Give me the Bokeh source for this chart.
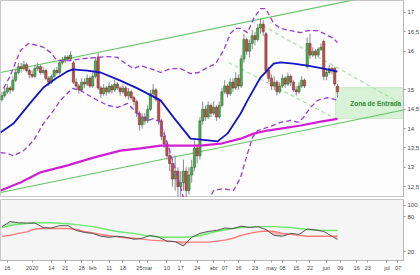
from bokeh.plotting import figure
from bokeh.layouts import column
from bokeh.models import Range1d, FixedTicker, Label, BoxAnnotation
from bokeh.embed import file_html
from bokeh.resources import INLINE
import numpy as np

FONT = "Liberation Sans"

# ---------------- data (x = trading-day index) ----------------
opens = [14.75, 14.85, 14.95, 15.05, 15.00, 15.25, 15.45, 15.60, 15.55, 15.65,
         15.50, 15.40, 15.35, 15.55, 15.60, 15.45, 15.50, 15.30, 15.20, 15.35,
         15.50, 15.45, 15.70, 15.75, 15.85, 15.80, 15.70, 15.20, 15.10, 15.00,
         15.20, 15.15, 15.30, 15.10, 15.35, 15.85, 15.05, 14.90, 15.05, 14.95,
         15.10, 15.00, 15.15, 15.05, 14.95, 15.05, 14.85, 14.95, 14.80, 14.70,
         14.40, 14.10, 14.30, 14.20, 14.50, 14.90, 15.00, 14.75, 14.20, 13.80,
         13.60, 13.30, 13.10, 12.70, 12.90, 12.50, 12.60, 12.90, 12.40, 12.80,
         13.00, 13.50, 13.30, 14.20, 14.50, 14.30, 14.60, 14.40, 14.55, 14.30,
         14.60, 14.95, 15.10, 14.90, 15.20, 15.05, 15.30, 15.10, 15.80, 16.30,
         16.00, 16.20, 16.40, 16.30, 16.60, 16.70, 16.45, 15.50, 15.30, 15.10,
         15.20, 14.95, 15.10, 15.30, 15.15, 15.35, 15.20, 15.00, 14.95, 15.10,
         15.25, 15.60, 16.20, 15.90, 16.00, 15.90, 16.05, 16.25, 15.35, 15.45,
         15.55, 15.55, 15.10]
highs = [14.95, 15.05, 15.15, 15.10, 15.35, 15.55, 15.70, 15.70, 15.75, 15.70,
         15.55, 15.50, 15.65, 15.70, 15.65, 15.60, 15.55, 15.35, 15.40, 15.55,
         15.60, 15.75, 15.85, 15.90, 15.90, 16.00, 15.75, 15.30, 15.15, 15.30,
         15.30, 15.40, 15.35, 15.45, 15.85, 15.95, 15.10, 15.15, 15.10, 15.20,
         15.15, 15.25, 15.20, 15.10, 15.15, 15.10, 15.05, 15.00, 14.85, 14.75,
         14.45, 14.40, 14.40, 14.60, 15.00, 15.15, 15.05, 14.80, 14.25, 13.95,
         13.70, 13.50, 13.20, 13.30, 13.00, 12.90, 13.20, 13.00, 13.00, 13.20,
         13.70, 13.60, 14.30, 14.70, 14.60, 14.70, 14.65, 14.70, 14.60, 14.70,
         15.05, 15.25, 15.15, 15.30, 15.30, 15.45, 15.40, 15.90, 16.45, 16.35,
         16.30, 16.55, 16.50, 16.70, 16.85, 16.80, 16.50, 15.60, 15.40, 15.35,
         15.25, 15.20, 15.40, 15.35, 15.45, 15.40, 15.25, 15.10, 15.20, 15.35,
         15.30, 16.35, 16.45, 16.10, 16.05, 16.10, 16.20, 16.30, 15.55, 15.65,
         15.60, 15.60, 15.15]
lows = [14.70, 14.80, 14.90, 14.90, 14.95, 15.20, 15.40, 15.45, 15.50, 15.45,
        15.30, 15.30, 15.30, 15.50, 15.40, 15.40, 15.25, 15.10, 15.15, 15.30,
        15.40, 15.40, 15.65, 15.70, 15.75, 15.75, 15.15, 15.00, 14.90, 14.95,
        15.05, 15.10, 15.05, 15.05, 15.30, 15.00, 14.80, 14.85, 14.85, 14.90,
        14.90, 14.95, 15.00, 14.85, 14.90, 14.80, 14.75, 14.75, 14.60, 14.30,
        13.95, 14.00, 14.10, 14.15, 14.45, 14.80, 14.70, 14.10, 13.70, 13.50,
        13.20, 12.90, 12.50, 12.40, 12.20, 12.10, 12.40, 12.20, 12.30, 12.60,
        12.90, 13.10, 13.20, 14.10, 14.20, 14.25, 14.30, 14.35, 14.20, 14.25,
        14.55, 14.90, 14.80, 14.85, 14.95, 15.00, 15.00, 15.05, 15.70, 15.90,
        15.85, 16.05, 16.15, 16.25, 16.45, 16.40, 15.40, 15.20, 15.00, 15.00,
        14.85, 14.90, 15.05, 15.05, 15.10, 15.10, 14.95, 14.85, 14.90, 15.05,
        15.05, 15.55, 15.80, 15.85, 15.80, 15.85, 16.00, 15.25, 15.25, 15.40,
        15.40, 15.10, 14.80]
closes = [14.85, 14.95, 15.05, 15.00, 15.25, 15.45, 15.60, 15.55, 15.65, 15.50,
          15.40, 15.35, 15.55, 15.60, 15.45, 15.50, 15.30, 15.20, 15.35, 15.50,
          15.45, 15.70, 15.75, 15.85, 15.80, 15.90, 15.20, 15.10, 15.00, 15.20,
          15.15, 15.30, 15.10, 15.35, 15.75, 15.05, 14.90, 15.05, 14.95, 15.10,
          15.00, 15.15, 15.05, 14.95, 15.05, 14.85, 14.95, 14.80, 14.70, 14.40,
          14.10, 14.30, 14.20, 14.50, 14.90, 15.00, 14.75, 14.20, 13.80, 13.60,
          13.30, 13.10, 12.70, 12.90, 12.50, 12.60, 12.90, 12.40, 12.80, 13.00,
          13.50, 13.30, 14.20, 14.50, 14.30, 14.60, 14.40, 14.55, 14.30, 14.60,
          14.95, 15.10, 14.90, 15.20, 15.05, 15.30, 15.10, 15.80, 16.30, 16.00,
          16.20, 16.40, 16.30, 16.60, 16.70, 16.50, 15.50, 15.30, 15.10, 15.20,
          14.95, 15.10, 15.30, 15.15, 15.35, 15.20, 15.00, 14.95, 15.10, 15.25,
          15.10, 16.20, 15.90, 16.00, 15.90, 16.05, 16.10, 15.35, 15.45, 15.55,
          15.50, 15.15, 14.95]

sma_x = [-2.5, 2.2, 9.1, 13.1, 17.5, 21.9, 23.7, 29.1, 33.9, 41.1, 47.3, 55.7, 60.4,
         66.6, 69.5, 76.4, 80.0, 84.8, 87.3, 92.0, 96.8, 99.3, 104.0, 109.1, 115.0, 120.0]
sma_y = [13.90, 14.13, 14.73, 15.06, 15.29, 15.48, 15.53, 15.50, 15.45, 15.24, 15.04, 14.73, 14.29,
         13.74, 13.72, 13.67, 13.87, 14.39, 14.73, 15.32, 15.68, 15.71, 15.68, 15.63, 15.55, 15.475]

bb_up_x = [-1.4, 1.1, 2.95, 4.8, 7.7, 11.0, 13.1, 15.7, 17.5, 18.6, 23.0, 27.7, 32.8, 36.4,
           40.0, 43.0, 45.9, 48.4, 52.0, 55.7, 59.3, 63.0, 66.6, 69.5, 72.8, 75.7, 78.6, 81.1,
           83.0, 84.8, 87.3, 89.5, 92.0, 93.9, 96.8, 99.3, 103.0, 106.6, 109.1, 112.8, 115.0,
           118.6, 120.0]
bb_up_y = [15.04, 15.37, 15.71, 16.02, 16.20, 16.15, 16.10, 15.97, 15.81, 15.76, 15.76, 15.81,
           15.84, 15.86, 15.84, 15.68, 15.55, 15.63, 15.55, 15.45, 15.55, 15.55, 15.42, 15.45,
           15.58, 15.68, 16.02, 16.46, 16.59, 16.59, 16.48, 16.84, 17.10, 17.10, 16.72, 16.59,
           16.53, 16.48, 16.53, 16.53, 16.46, 16.33, 16.22]

bb_lo_x = [-2.5, 0.0, 2.2, 5.9, 9.5, 13.1, 16.8, 19.3, 23.7, 26.6, 32.8, 36.4, 40.0, 43.7,
           47.3, 51.0, 53.1, 55.7, 58.2, 60.4, 63.0, 64.8, 68.4, 72.0, 75.0, 78.6, 82.2, 84.8,
           87.3, 89.1, 91.0, 94.6, 99.3, 103.0, 105.5, 107.7, 110.2, 112.8, 116.4, 119.3, 120.0]
bb_lo_y = [13.38, 13.36, 13.30, 13.43, 13.69, 14.13, 14.47, 14.73, 15.04, 14.98, 14.73, 14.60,
           14.55, 14.65, 14.39, 14.21, 14.26, 14.16, 13.61, 13.10, 12.48, 12.00, 11.70, 12.00,
           12.40, 12.45, 12.40, 12.74, 13.36, 13.77, 13.95, 14.03, 14.16, 14.21, 14.16, 14.29,
           14.55, 14.73, 14.80, 14.75, 14.67]

ma200_x = [-2.5, 4.8, 12.05, 21.9, 31.3, 41.1, 48.4, 55.7, 63.0, 70.2, 77.5, 84.8, 89.5,
           94.6, 99.3, 106.6, 113.9, 120.0]
ma200_y = [12.40, 12.61, 12.87, 13.05, 13.25, 13.43, 13.49, 13.56, 13.56, 13.56, 13.61, 13.74,
           13.87, 13.95, 14.00, 14.08, 14.18, 14.25]

chan_x = [-2.5, 144.0]
chan_up_y = [15.45, 17.59]
chan_lo_y = [12.35, 14.48]

dash_up_x = [92.8, 144.0]
dash_up_y = [16.66, 14.61]
dash_lo_x = [80.4, 119.3]
dash_lo_y = [15.71, 14.26]

zone_left, zone_right, zone_bottom, zone_top = 119.3, 144.0, 14.26, 15.06

price_ticks = [12.5, 13.0, 13.5, 14.0, 14.5, 15.0, 16.0, 16.5, 17.0]
price_tick_labels = ["12,5", "13", "13,5", "14", "14,5", "15", "16", "16,5", "17"]

osc_x = [-2, 1, 4, 7, 10, 13, 16, 19, 22, 25, 28, 31, 34, 37, 40, 43, 46, 49, 52, 55, 58,
         61, 64, 67, 70, 73, 76, 79, 82, 85, 88, 91, 94, 97, 100, 103, 106, 109, 112, 115, 118, 120]
osc_black = [63.3, 72.0, 70.0, 69.5, 69.5, 61.7, 60.8, 65.0, 65.0, 56.7, 53.3, 51.7, 46.7, 45.0,
             46.7, 45.0, 41.7, 43.3, 48.3, 45.0, 38.3, 37.5, 30.0, 45.0, 51.7, 55.0, 56.7, 60.8,
             60.0, 64.2, 61.7, 63.3, 58.3, 48.3, 46.7, 51.7, 50.0, 59.2, 57.5, 55.0, 46.7, 41.2]
osc_green = [61.7, 65.0, 67.5, 68.5, 69.5, 70.0, 70.0, 69.2, 68.3, 66.7, 65.0, 63.3, 60.8, 57.5,
             55.0, 53.3, 51.7, 49.2, 46.7, 45.8, 45.0, 45.0, 45.0, 45.8, 47.5, 50.8, 55.0, 57.5,
             60.0, 61.7, 62.5, 63.3, 63.3, 63.3, 62.5, 61.7, 60.0, 58.3, 57.5, 56.7, 56.7, 56.7]
osc_red = [46.7, 48.3, 51.7, 54.2, 59.2, 60.0, 60.0, 60.0, 60.0, 58.3, 55.0, 52.5, 50.0, 47.5,
           45.8, 44.2, 43.3, 41.7, 40.0, 39.2, 38.3, 37.5, 36.7, 36.7, 36.7, 36.7, 38.3, 40.0,
           43.3, 48.3, 51.7, 54.2, 55.8, 55.0, 51.7, 50.0, 48.3, 46.7, 46.7, 46.7, 46.7, 46.7]
osc_ticks = [20, 80, 100]

date_ticks = [0, 9, 16, 21, 27, 31, 37, 42, 48, 51, 58, 63, 69, 75, 79, 84, 90, 96, 100, 105,
              110, 116, 121, 127, 131, 138, 142]
date_labels = ["16", "2020", "14", "21", "28", "feb", "11", "18", "25", "mar", "10", "17", "24",
               "abr", "07", "16", "23", "may", "08", "15", "22", "jun", "09", "16", "23", "jul", "07"]

# ---------------- main price panel ----------------
x_range = Range1d(-2.5, 144.0)
main = figure(frame_width=403, frame_height=197, x_range=x_range, y_range=Range1d(12.22, 17.31),
              output_backend="svg", toolbar_location=None, x_axis_location=None,
              y_axis_location="right", min_border_left=0, min_border_right=17,
              min_border_top=0, min_border_bottom=0, background_fill_color="#fdfdfd",
              border_fill_color="white", outline_line_color="#c8c8c8")
main.grid.visible = False

zone = BoxAnnotation(left=zone_left, right=zone_right, bottom=zone_bottom, top=zone_top,
                     fill_color="#d8f2d8", fill_alpha=1.0, line_color="#80cc80",
                     line_width=1, level="underlay")
main.add_layout(zone)

main.line(chan_x, chan_up_y, color="#66c266", line_width=1.2)
main.line(chan_x, chan_lo_y, color="#66c266", line_width=1.2)
main.line(dash_up_x, dash_up_y, color="#a6e0a6", line_width=1.2, line_dash="4 3")
main.line(dash_lo_x, dash_lo_y, color="#a6e0a6", line_width=1.2, line_dash="4 3")

xi = np.arange(-2, -2 + len(closes))
o = np.array(opens); h = np.array(highs); l = np.array(lows); c = np.array(closes)
up = c >= o
dn = ~up
main.segment(xi, h, xi, l, color="#8a8a8a", line_width=1)
main.vbar(x=xi[up], width=0.8, top=c[up], bottom=o[up], fill_color="#4eae4e",
          line_color="#2f6f2f", line_width=0.6)
main.vbar(x=xi[dn], width=0.8, top=o[dn], bottom=c[dn], fill_color="#c0504d",
          line_color="#7a3030", line_width=0.6)

main.line(ma200_x, ma200_y, color="#d21ed2", line_width=2.2)
main.line(bb_up_x, bb_up_y, color="#9a3ad6", line_width=1.3, line_dash="5 3")
main.line(bb_lo_x, bb_lo_y, color="#9a3ad6", line_width=1.3, line_dash="5 3")
main.line(sma_x, sma_y, color="#1414c8", line_width=1.8)

main.add_layout(Label(x=133.9, y=14.64, text="Zona de Entrada", text_font=FONT,
                      text_font_size="6.5px", text_font_style="bold", text_color="#2e8b2e",
                      text_align="center", text_baseline="middle"))

ax = main.yaxis[0]
ax.ticker = FixedTicker(ticks=price_ticks)
ax.major_label_overrides = {t: s for t, s in zip(price_ticks, price_tick_labels)}
ax.major_label_text_font = FONT
ax.major_label_text_font_size = "6px"
ax.major_label_text_color = "#444444"
ax.major_tick_out = 2
ax.major_tick_in = 0
ax.minor_tick_out = 0
ax.minor_tick_in = 0
ax.major_label_standoff = 2
ax.axis_line_color = "#b5b5b5"
ax.major_tick_line_color = "#999999"


def callout(fig, y, text, color, bg, border):
    fig.add_layout(Label(x=144.0, y=y, x_offset=1, text=text, text_font=FONT,
                         text_font_size="5px", text_color=color, text_align="left",
                         text_baseline="middle", background_fill_color=bg,
                         border_line_color=border, padding=1))


callout(main, 15.475, "15,475", "#2222dd", "#eef0ff", "#9aa0e0")
callout(main, 14.907, "14,95", "#222222", "#f2e23a", "#b0a020")
callout(main, 14.25, "14,250", "#d21ed2", "#fdeefd", "#e0a0e0")

# ---------------- oscillator panel ----------------
low = figure(frame_width=403, frame_height=61, x_range=x_range, y_range=Range1d(5, 110),
             output_backend="svg", toolbar_location=None, y_axis_location="right",
             min_border_left=0, min_border_right=17, min_border_top=2, min_border_bottom=0,
             background_fill_color="#f5f5f5", border_fill_color="white",
             outline_line_color="#c8c8c8")
low.grid.visible = False

ob = np.array(osc_black); og = np.array(osc_green); orr = np.array(osc_red)
low.varea(x=osc_x, y1=og, y2=np.maximum(ob, og), fill_color="#9fe89f", fill_alpha=0.7)
low.varea(x=osc_x, y1=orr, y2=np.minimum(ob, orr), fill_color="#f2a8a8", fill_alpha=0.7)
low.line(osc_x, osc_red, color="#ff7a7a", line_width=1.4)
low.line(osc_x, osc_green, color="#6ee86e", line_width=1.4)
low.line(osc_x, osc_black, color="#555555", line_width=1.0)

lax = low.yaxis[0]
lax.ticker = FixedTicker(ticks=osc_ticks)
lax.major_label_text_font = FONT
lax.major_label_text_font_size = "6px"
lax.major_label_text_color = "#444444"
lax.major_tick_out = 2
lax.major_tick_in = 0
lax.minor_tick_out = 0
lax.minor_tick_in = 0
lax.major_label_standoff = 2
lax.axis_line_color = "#b5b5b5"
lax.major_tick_line_color = "#999999"

xax = low.xaxis[0]
xax.ticker = FixedTicker(ticks=date_ticks)
xax.major_label_overrides = {t: s for t, s in zip(date_ticks, date_labels)}
xax.major_label_text_font = FONT
xax.major_label_text_font_size = "5.5px"
xax.major_label_text_color = "#444444"
xax.major_tick_out = 2
xax.major_tick_in = 0
xax.minor_tick_out = 0
xax.minor_tick_in = 0
xax.major_label_standoff = 2
xax.axis_line_color = "#b5b5b5"
xax.major_tick_line_color = "#999999"

callout(low, 55.0, "60,861", "#22bb22", "#f4fff4", "#a0d8a0")
callout(low, 46.7, "46,858", "#e03030", "#fff4f4", "#e0a0a0")
callout(low, 38.6, "41,244", "#333333", "#f8f8f8", "#aaaaaa")

layout = column(main, low, spacing=0)
open("out.html", "w").write(file_html(layout, INLINE))
